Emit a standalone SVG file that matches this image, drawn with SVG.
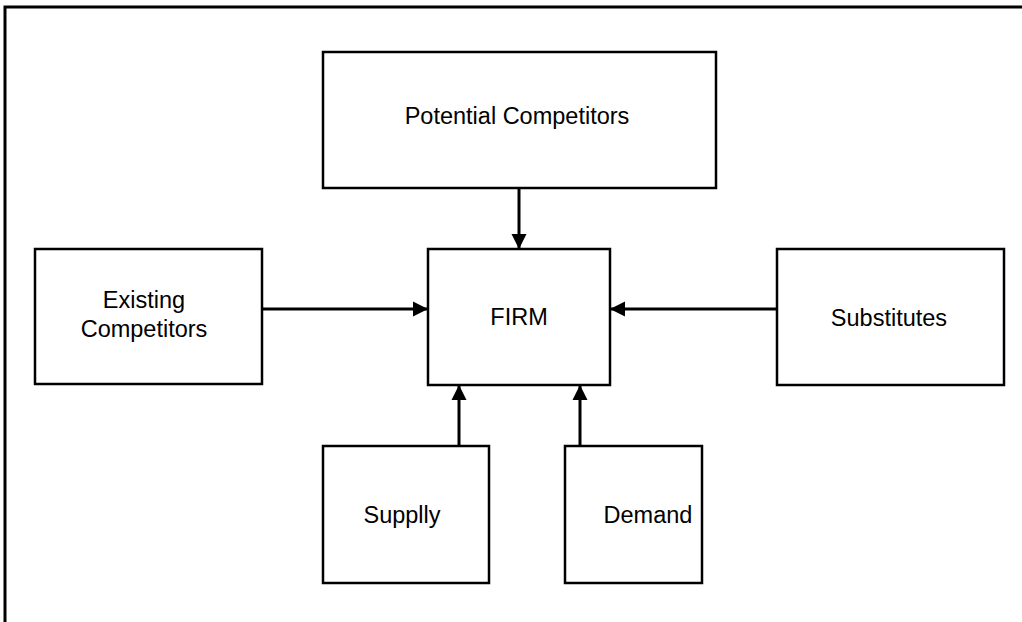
<svg xmlns="http://www.w3.org/2000/svg" width="1022" height="622" viewBox="0 0 1022 622">
<style>
.box{fill:#fff;stroke:#000;stroke-width:2.5}
.lbl{font-family:"Liberation Sans",Arial,sans-serif;font-size:23.5px;fill:#000;text-anchor:middle}
.conn{stroke:#000;stroke-width:3;fill:none;marker-end:url(#ah)}
</style>
<defs>
<marker id="ah" markerUnits="userSpaceOnUse" markerWidth="16" markerHeight="16" refX="15" refY="8" orient="auto" viewBox="0 0 16 16">
<path d="M0,0.5 L15,8 L0,15.5 z" fill="#000"/>
</marker>
</defs>
<rect width="1022" height="622" fill="#fff"/>
<path d="M5,622 V7 H1022" fill="none" stroke="#000" stroke-width="3"/>
<g id="connectors">
<line class="conn" x1="519" y1="188" x2="519" y2="249"/>
<line class="conn" x1="262" y1="309" x2="428" y2="309"/>
<line class="conn" x1="777" y1="309" x2="610" y2="309"/>
<line class="conn" x1="459" y1="446" x2="459" y2="385"/>
<line class="conn" x1="580" y1="446" x2="580" y2="385"/>
</g>
<g id="potential">
<rect class="box" x="323" y="52" width="393" height="136"/>
<text class="lbl" x="517" y="124">Potential Competitors</text>
</g>
<g id="firm">
<rect class="box" x="428" y="249" width="182" height="136"/>
<text class="lbl" x="519" y="325">FIRM</text>
</g>
<g id="existing">
<rect class="box" x="35" y="249" width="227" height="135"/>
<text class="lbl" x="144" y="308">Existing</text>
<text class="lbl" x="144" y="337">Competitors</text>
</g>
<g id="substitutes">
<rect class="box" x="777" y="249" width="227" height="136"/>
<text class="lbl" x="889" y="326">Substitutes</text>
</g>
<g id="supply">
<rect class="box" x="323" y="446" width="166" height="137"/>
<text class="lbl" x="402" y="523">Supplly</text>
</g>
<g id="demand">
<rect class="box" x="565" y="446" width="137" height="137"/>
<text class="lbl" x="648" y="523">Demand</text>
</g>
</svg>
